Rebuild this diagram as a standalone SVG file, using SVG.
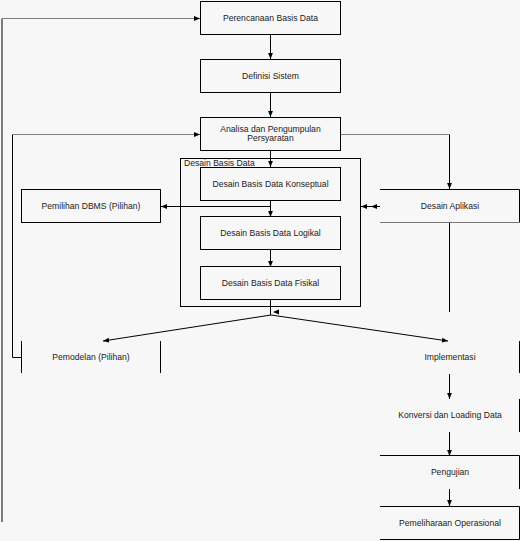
<svg xmlns="http://www.w3.org/2000/svg" width="520" height="541" viewBox="0 0 520 541">
<defs>
<marker id="ah" viewBox="0 0 10 10" refX="10" refY="5" markerWidth="6" markerHeight="6" orient="auto" markerUnits="userSpaceOnUse">
<path d="M0,1 L10,5 L0,9 Z" fill="#000"/>
</marker>
</defs>
<style>
.box{fill:#f7f7f7;stroke:#000;stroke-width:1}
.edge{stroke:#000;stroke-width:1;fill:none}
.con{stroke:#000;stroke-width:1;fill:none}
.grey{stroke:#808080;stroke-width:1;fill:none}
text{font-family:"Liberation Sans",Arial,sans-serif;font-size:8.6px;fill:#222;text-anchor:middle}
</style>
<rect x="0" y="0" width="520" height="541" fill="#f7f7f7"/>

<g id="connectors">
<!-- outer feedback to Perencanaan -->
<polyline class="con" points="2,522 2,18.5" stroke-width="1.5"/>
<line class="grey" x1="2" y1="18.5" x2="200" y2="18.5" marker-end="url(#ah)"/>
<line class="con" x1="270.5" y1="34" x2="270.5" y2="59" marker-end="url(#ah)"/>
<line class="con" x1="270.5" y1="92" x2="270.5" y2="117" marker-end="url(#ah)"/>
<line class="con" x1="270.5" y1="150" x2="270.5" y2="167" marker-end="url(#ah)"/>
<!-- Pemodelan feedback -->
<polyline class="con" points="21,357.5 12.5,357.5 12.5,134.5"/>
<line class="grey" x1="12.5" y1="134.5" x2="200" y2="134.5" marker-end="url(#ah)"/>
<!-- Analisa to Desain Aplikasi -->
<polyline class="grey" points="340,134.5 449.5,134.5"/>
<line class="con" x1="449.5" y1="134.5" x2="449.5" y2="189" marker-end="url(#ah)"/>
<!-- Konseptual to Logikal and DBMS -->
<line class="con" x1="270.5" y1="200" x2="270.5" y2="217" marker-end="url(#ah)"/>
<line class="con" x1="270.5" y1="206.5" x2="161" y2="206.5" marker-end="url(#ah)"/>
<!-- outer box to Desain Aplikasi -->
<line class="con" x1="380" y1="206.5" x2="361" y2="206.5" marker-end="url(#ah)"/>
<path d="M377,204 L371,206.5 L377,209 Z" fill="#000"/>
<line class="con" x1="270.5" y1="249" x2="270.5" y2="267" marker-end="url(#ah)"/>
<line class="con" x1="270.5" y1="299" x2="270.5" y2="315"/>
<path d="M279,309.5 L273,312 L279,314.5 Z" fill="#000"/>
<line class="con" x1="449.5" y1="222" x2="449.5" y2="312"/>
<line class="con" x1="271" y1="315" x2="103" y2="341" marker-end="url(#ah)"/>
<line class="con" x1="271" y1="315" x2="448" y2="341" marker-end="url(#ah)"/>
<line class="con" x1="449.5" y1="374" x2="449.5" y2="399" marker-end="url(#ah)"/>
<line class="con" x1="449.5" y1="432" x2="449.5" y2="456" marker-end="url(#ah)"/>
<line class="con" x1="449.5" y1="489" x2="449.5" y2="506" marker-end="url(#ah)"/>
</g>

<g id="n-perencanaan">
<rect class="box" x="200.5" y="1.5" width="140" height="33"/>
<text x="270.5" y="20.5">Perencanaan Basis Data</text>
</g>
<g id="n-definisi">
<rect class="box" x="200.5" y="59.5" width="140" height="33"/>
<text x="270.5" y="78.5">Definisi Sistem</text>
</g>
<g id="n-analisa">
<rect class="box" x="200.5" y="117.5" width="140" height="33"/>
<text x="270.5" y="132">Analisa dan Pengumpulan</text>
<text x="270.5" y="141">Persyaratan</text>
</g>
<g id="n-desain-basis-data">
<rect x="180.5" y="158.5" width="180" height="148" fill="none" stroke="#000"/>
<text x="184" y="165.5" style="text-anchor:start">Desain Basis Data</text>
</g>
<g id="n-konseptual">
<rect class="box" x="200.5" y="167.5" width="140" height="33" stroke="#555"/>
<text x="270.5" y="186.5">Desain Basis Data Konseptual</text>
</g>
<g id="n-logikal">
<rect class="box" x="200.5" y="216.5" width="140" height="33"/>
<text x="270.5" y="235.5">Desain Basis Data Logikal</text>
</g>
<g id="n-fisikal">
<rect class="box" x="200.5" y="266.5" width="140" height="33"/>
<text x="270.5" y="285.5">Desain Basis Data Fisikal</text>
</g>
<g id="n-dbms">
<rect class="box" x="21.5" y="189.5" width="139" height="33"/>
<text x="91" y="208.5">Pemilihan DBMS (Pilihan)</text>
</g>
<g id="n-aplikasi">
<polyline class="edge" points="380,189.5 519.5,189.5 519.5,222.5"/>
<line x1="380" y1="222.5" x2="519.5" y2="222.5" stroke="#777"/>
<text x="450" y="208.5">Desain Aplikasi</text>
</g>
<g id="n-pemodelan">
<line class="edge" x1="21.5" y1="341" x2="21.5" y2="373"/>
<line class="edge" x1="160.5" y1="341" x2="160.5" y2="373"/>
<text x="91" y="360">Pemodelan (Pilihan)</text>
</g>
<g id="n-implementasi">
<line class="edge" x1="519.5" y1="341" x2="519.5" y2="373"/>
<text x="450" y="360">Implementasi</text>
</g>
<g id="n-konversi">
<line class="edge" x1="519.5" y1="399" x2="519.5" y2="432"/>
<text x="450" y="418">Konversi dan Loading Data</text>
</g>
<g id="n-pengujian">
<polyline class="edge" points="380,455.5 519.5,455.5 519.5,489"/>
<text x="450" y="475">Pengujian</text>
</g>
<g id="n-pemeliharaan">
<polyline class="edge" points="380,506.5 519.5,506.5 519.5,539.5 380,539.5"/>
<text x="450" y="525.5">Pemeliharaan Operasional</text>
</g>
</svg>
